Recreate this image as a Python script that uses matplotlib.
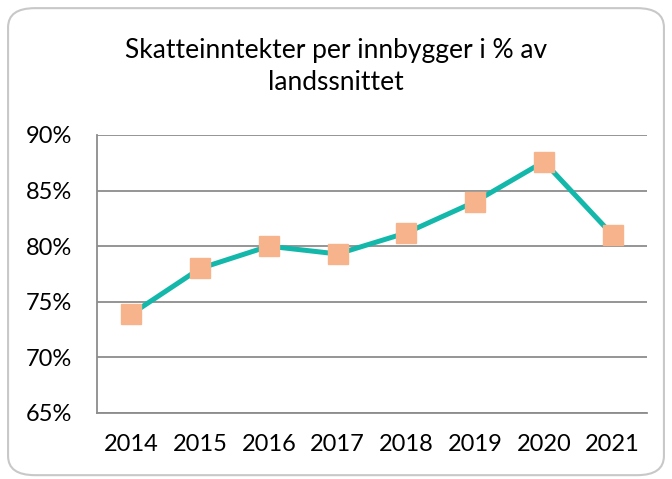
import matplotlib.pyplot as plt
from matplotlib.patches import FancyBboxPatch

# data
years = ['2014', '2015', '2016', '2017', '2018', '2019', '2020', '2021']
share = [73.9, 78.0, 80.0, 79.3, 81.2, 84.0, 87.6, 81.0]
y_ticks = [65, 70, 75, 80, 85, 90]

plt.rcParams['font.family'] = ['Lato', 'DejaVu Sans']

fig = plt.figure(figsize=(6.72, 4.79), dpi=100)
ax = fig.add_axes([0.1443, 0.1378, 0.8185, 0.5804])

# rounded chart frame
frame = FancyBboxPatch((0.012, 0.008), 0.976, 0.975,
                       boxstyle='round,pad=0,rounding_size=0.04',
                       transform=fig.transFigure, facecolor='none',
                       edgecolor='#c8c8c8', linewidth=1.5, zorder=-1)
fig.patches.append(frame)

x = list(range(len(years)))
ax.plot(x, share, color='#14b8aa', linewidth=3.6, marker='s',
        markersize=14, markerfacecolor='#f7b48c', markeredgecolor='#f7b48c',
        zorder=3)

ax.set_xlim(-0.5, len(years) - 0.5)
ax.set_ylim(65, 90)
ax.set_xticks(x)
ax.set_xticklabels(years)
ax.set_yticks(y_ticks)
ax.set_yticklabels([f'{t}%' for t in y_ticks])
ax.yaxis.grid(True, color='#8c8c8c', linewidth=1.3)
ax.set_axisbelow(True)
for side in ['top', 'right']:
    ax.spines[side].set_visible(False)
for side in ['left', 'bottom']:
    ax.spines[side].set_color('#8c8c8c')
    ax.spines[side].set_linewidth(1.3)
ax.tick_params(length=0, labelsize=17, pad=15, colors='black')
ax.tick_params(axis='y', pad=18)

fig.text(0.5, 0.862, 'Skatteinntekter per innbygger i % av\nlandssnittet',
         ha='center', va='center', fontsize=19, linespacing=1.35)

fig.savefig('out.png', dpi=100)
